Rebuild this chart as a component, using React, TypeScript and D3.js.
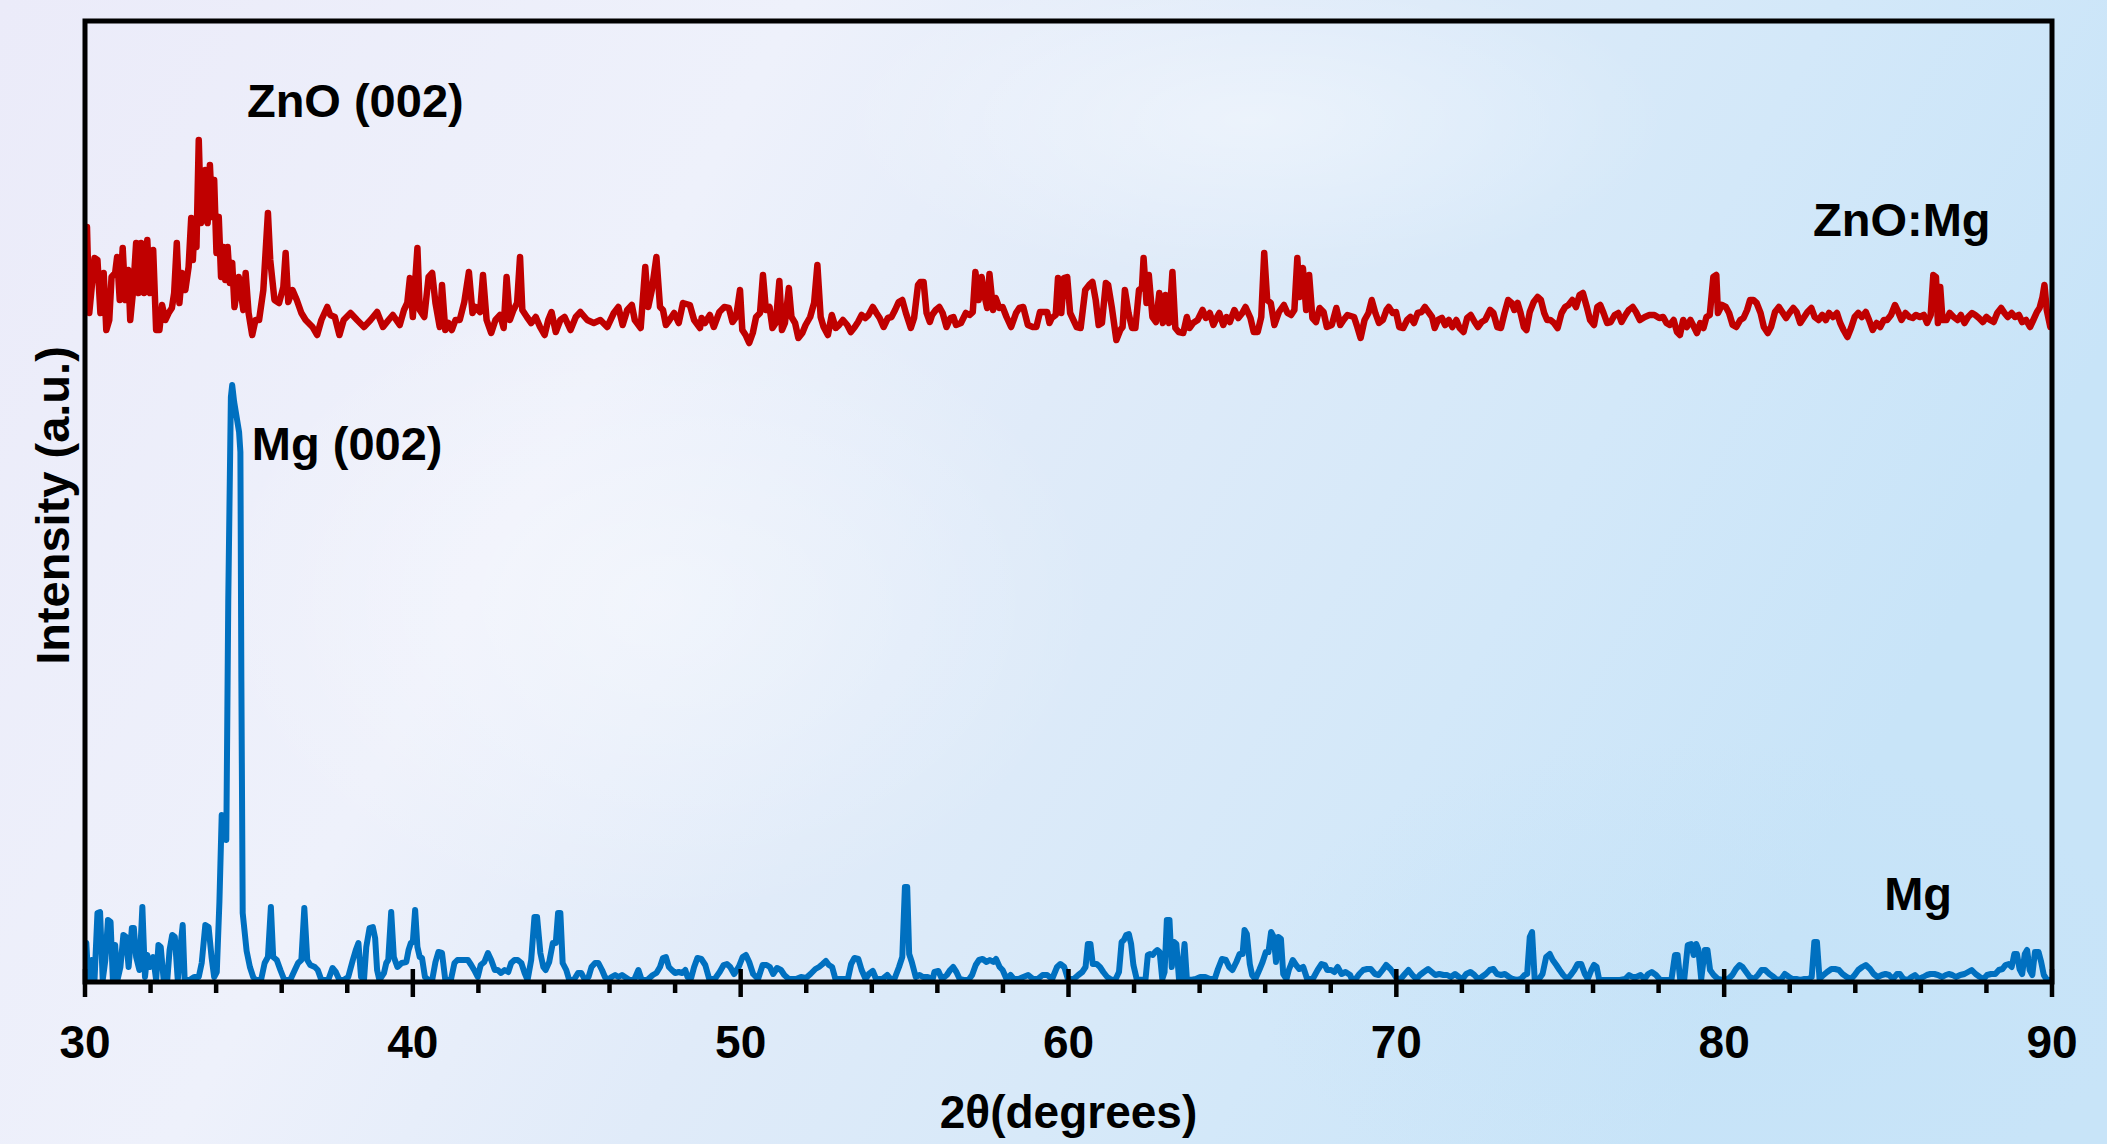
import React from "react";
import * as d3 from "d3";

// ---- data (2θ in degrees, intensity in arbitrary units, ZnO:Mg trace carries its stacking offset) ----
const xTicksMajor = [30, 40, 50, 60, 70, 80, 90];
const xTicksMinor = d3.range(32, 90, 2).filter((v) => v % 10 !== 0);

const znoMgPattern: [number, number][] = [
  [30.0, 690], [30.06, 755], [30.13, 669], [30.29, 724], [30.38, 722], [30.47, 669], [30.57, 709], [30.65, 652],
  [30.74, 662], [30.81, 705], [30.92, 709], [30.98, 725], [31.06, 682], [31.15, 734], [31.23, 682], [31.32, 712],
  [31.38, 662], [31.47, 692], [31.56, 739], [31.63, 689], [31.71, 739], [31.8, 689], [31.9, 742], [31.98, 689],
  [32.08, 732], [32.17, 652], [32.27, 652], [32.35, 677], [32.45, 662], [32.55, 669], [32.65, 674], [32.72, 689],
  [32.8, 739], [32.88, 679], [32.96, 709], [33.06, 692], [33.16, 715], [33.24, 764], [33.29, 722], [33.35, 762],
  [33.4, 735], [33.47, 842], [33.54, 759], [33.6, 769], [33.67, 812], [33.74, 759], [33.81, 817], [33.88, 765],
  [33.94, 802], [34.01, 729], [34.08, 765], [34.15, 705], [34.22, 735], [34.28, 702], [34.35, 735], [34.42, 699],
  [34.49, 719], [34.56, 675], [34.69, 705], [34.83, 672], [34.9, 709], [34.99, 669], [35.1, 647], [35.2, 662],
  [35.31, 662], [35.44, 692], [35.58, 769], [35.65, 722], [35.78, 682], [35.92, 679], [36.05, 695], [36.12, 729],
  [36.2, 680], [36.33, 692], [36.46, 682], [36.6, 669], [36.73, 662], [36.94, 655], [37.08, 647], [37.21, 662],
  [37.39, 675], [37.48, 667], [37.62, 665], [37.76, 647], [37.89, 662], [38.1, 669], [38.3, 662], [38.51, 655],
  [38.71, 662], [38.91, 670], [39.09, 655], [39.26, 662], [39.39, 667], [39.6, 657], [39.73, 672], [39.83, 679],
  [39.91, 704], [40.0, 665], [40.14, 734], [40.21, 672], [40.35, 665], [40.48, 705], [40.59, 709], [40.69, 679],
  [40.82, 655], [40.89, 697], [40.99, 652], [41.09, 659], [41.19, 652], [41.3, 662], [41.43, 662], [41.57, 680],
  [41.71, 710], [41.82, 669], [41.91, 675], [42.05, 670], [42.14, 707], [42.25, 662], [42.39, 649], [42.52, 662],
  [42.66, 667], [42.77, 654], [42.86, 705], [42.96, 662], [43.07, 672], [43.18, 679], [43.27, 725], [43.34, 672],
  [43.48, 665], [43.61, 659], [43.75, 665], [43.88, 655], [44.02, 647], [44.13, 662], [44.23, 670], [44.36, 650],
  [44.5, 662], [44.63, 665], [44.81, 652], [44.97, 665], [45.11, 670], [45.32, 662], [45.52, 659], [45.72, 662],
  [45.93, 655], [46.13, 669], [46.27, 675], [46.4, 657], [46.54, 672], [46.68, 677], [46.77, 662], [46.95, 654],
  [47.09, 715], [47.18, 675], [47.29, 692], [47.43, 725], [47.54, 675], [47.63, 672], [47.72, 657], [47.83, 662],
  [47.97, 669], [48.11, 659], [48.24, 679], [48.45, 677], [48.58, 662], [48.76, 654], [48.81, 664], [48.91, 659],
  [49.06, 667], [49.18, 655], [49.35, 670], [49.5, 675], [49.64, 674], [49.75, 660], [49.86, 665], [49.98, 692],
  [50.05, 652], [50.15, 647], [50.26, 639], [50.37, 649], [50.47, 665], [50.59, 669], [50.68, 707], [50.77, 672],
  [50.88, 675], [50.97, 654], [51.07, 659], [51.18, 701], [51.26, 652], [51.35, 659], [51.47, 694], [51.55, 665],
  [51.66, 659], [51.76, 644], [51.88, 649], [51.98, 657], [52.12, 665], [52.24, 679], [52.34, 717], [52.44, 665],
  [52.53, 655], [52.66, 647], [52.78, 667], [52.9, 654], [53.0, 657], [53.12, 662], [53.25, 657], [53.36, 650],
  [53.48, 655], [53.58, 660], [53.69, 667], [53.8, 664], [53.9, 667], [54.03, 675], [54.14, 669], [54.24, 664],
  [54.36, 655], [54.49, 664], [54.6, 665], [54.71, 672], [54.82, 680], [54.93, 682], [55.04, 669], [55.19, 654],
  [55.29, 664], [55.41, 697], [55.48, 700], [55.58, 700], [55.67, 669], [55.77, 660], [55.84, 667], [55.95, 672],
  [56.06, 675], [56.16, 669], [56.28, 655], [56.4, 664], [56.49, 665], [56.57, 657], [56.72, 659], [56.87, 669],
  [56.98, 667], [57.08, 670], [57.16, 710], [57.26, 682], [57.35, 705], [57.42, 689], [57.52, 674], [57.59, 708],
  [57.7, 672], [57.78, 684], [57.89, 674], [57.99, 675], [58.11, 665], [58.25, 655], [58.4, 669], [58.5, 674],
  [58.62, 675], [58.76, 657], [58.91, 655], [59.02, 655], [59.13, 670], [59.23, 670], [59.35, 670], [59.42, 659],
  [59.49, 664], [59.61, 667], [59.68, 704], [59.78, 669], [59.86, 704], [59.96, 705], [60.05, 669], [60.15, 662],
  [60.25, 655], [60.37, 654], [60.51, 692], [60.63, 697], [60.73, 700], [60.83, 682], [60.92, 657], [61.02, 659],
  [61.14, 699], [61.21, 697], [61.32, 675], [61.46, 642], [61.58, 652], [61.65, 655], [61.72, 692], [61.83, 669],
  [61.94, 654], [62.04, 654], [62.15, 692], [62.24, 694], [62.29, 724], [62.38, 679], [62.45, 707], [62.56, 665],
  [62.67, 660], [62.77, 689], [62.88, 659], [62.96, 687], [63.07, 659], [63.17, 710], [63.26, 654], [63.36, 650],
  [63.5, 649], [63.61, 665], [63.69, 654], [63.8, 659], [63.94, 662], [64.09, 672], [64.19, 664], [64.31, 669],
  [64.42, 657], [64.53, 665], [64.6, 669], [64.72, 657], [64.82, 665], [64.92, 660], [65.06, 672], [65.18, 664],
  [65.3, 669], [65.4, 675], [65.55, 664], [65.65, 650], [65.77, 650], [65.88, 665], [65.97, 729], [66.06, 682],
  [66.17, 679], [66.28, 657], [66.42, 670], [66.57, 677], [66.68, 669], [66.79, 667], [66.89, 672], [66.98, 724],
  [67.05, 685], [67.15, 714], [67.25, 672], [67.34, 707], [67.44, 664], [67.55, 660], [67.66, 674], [67.78, 670],
  [67.88, 655], [68.03, 657], [68.17, 674], [68.29, 657], [68.39, 662], [68.51, 667], [68.71, 665], [68.81, 655],
  [68.91, 644], [69.03, 662], [69.15, 669], [69.25, 682], [69.36, 669], [69.47, 659], [69.59, 662], [69.7, 672],
  [69.77, 675], [69.89, 669], [69.99, 670], [70.09, 655], [70.21, 654], [70.33, 662], [70.43, 665], [70.54, 659],
  [70.65, 669], [70.77, 670], [70.87, 675], [70.98, 670], [71.09, 665], [71.17, 654], [71.27, 662], [71.39, 664],
  [71.49, 657], [71.6, 662], [71.71, 655], [71.83, 662], [71.93, 654], [72.05, 650], [72.16, 664], [72.27, 667],
  [72.39, 660], [72.49, 655], [72.6, 660], [72.71, 662], [72.86, 672], [72.96, 669], [73.08, 655], [73.19, 654],
  [73.3, 669], [73.41, 682], [73.52, 679], [73.6, 672], [73.7, 679], [73.79, 669], [73.89, 655], [73.97, 652],
  [74.07, 670], [74.19, 680], [74.31, 685], [74.41, 682], [74.51, 669], [74.6, 662], [74.7, 662], [74.81, 659],
  [74.92, 654], [75.04, 669], [75.15, 675], [75.25, 677], [75.37, 682], [75.48, 675], [75.59, 687], [75.69, 689],
  [75.81, 675], [75.91, 662], [76.03, 657], [76.13, 675], [76.22, 677], [76.32, 669], [76.43, 659], [76.54, 660],
  [76.66, 667], [76.77, 669], [76.87, 660], [76.99, 667], [77.09, 672], [77.21, 675], [77.31, 670], [77.43, 662],
  [77.58, 665], [77.72, 667], [77.87, 667], [78.02, 664], [78.14, 665], [78.24, 659], [78.34, 657], [78.46, 662],
  [78.56, 650], [78.65, 647], [78.75, 662], [78.86, 655], [78.97, 662], [79.08, 655], [79.17, 649], [79.27, 659],
  [79.37, 654], [79.46, 665], [79.56, 667], [79.67, 705], [79.76, 707], [79.81, 669], [79.93, 677], [80.05, 675],
  [80.15, 669], [80.26, 657], [80.37, 655], [80.49, 662], [80.59, 664], [80.7, 672], [80.79, 682], [80.89, 682],
  [80.99, 679], [81.11, 669], [81.21, 655], [81.33, 649], [81.43, 655], [81.55, 670], [81.67, 675], [81.77, 670],
  [81.89, 664], [81.99, 669], [82.11, 674], [82.21, 670], [82.32, 659], [82.44, 665], [82.54, 670], [82.66, 674],
  [82.76, 665], [82.88, 662], [82.99, 667], [83.1, 662], [83.2, 669], [83.32, 665], [83.44, 669], [83.54, 659],
  [83.64, 652], [83.76, 645], [83.87, 654], [83.98, 665], [84.09, 669], [84.2, 665], [84.32, 670], [84.42, 662],
  [84.53, 652], [84.65, 659], [84.76, 655], [84.87, 662], [84.97, 662], [85.09, 667], [85.21, 677], [85.31, 670],
  [85.41, 662], [85.53, 669], [85.65, 665], [85.75, 664], [85.85, 667], [85.97, 665], [86.09, 667], [86.19, 659],
  [86.3, 667], [86.38, 707], [86.46, 705], [86.52, 659], [86.59, 695], [86.66, 662], [86.78, 662], [86.88, 669],
  [87.0, 665], [87.12, 662], [87.22, 667], [87.33, 659], [87.44, 665], [87.56, 669], [87.66, 667], [87.77, 664],
  [87.89, 660], [88.0, 665], [88.11, 662], [88.22, 660], [88.33, 669], [88.45, 674], [88.55, 669], [88.65, 665],
  [88.77, 669], [88.87, 665], [88.99, 667], [89.09, 660], [89.21, 662], [89.33, 655], [89.43, 662], [89.54, 670],
  [89.62, 674], [89.71, 685], [89.77, 697], [89.84, 672], [89.95, 655],
];

const mgPattern: [number, number][] = [
  [30.0, 2], [30.04, 39], [30.1, 2], [30.2, 22], [30.29, 2], [30.38, 69], [30.46, 70], [30.54, 2], [30.62, 22],
  [30.7, 62], [30.78, 60], [30.85, 2], [30.92, 37], [30.99, 2], [31.08, 15], [31.17, 47], [31.25, 45], [31.33, 15],
  [31.43, 54], [31.49, 54], [31.56, 25], [31.66, 12], [31.75, 75], [31.83, 5], [31.9, 27], [31.98, 15], [32.08, 25],
  [32.17, 2], [32.24, 37], [32.31, 35], [32.4, 2], [32.51, 2], [32.58, 32], [32.66, 47], [32.74, 45], [32.83, 2],
  [32.91, 35], [32.98, 57], [33.04, 2], [33.19, 2], [33.33, 5], [33.47, 5], [33.56, 19], [33.67, 57], [33.77, 55],
  [33.86, 25], [33.94, 5], [34.02, 10], [34.1, 80], [34.17, 167], [34.22, 160], [34.31, 142], [34.37, 382],
  [34.45, 585], [34.49, 597], [34.55, 580], [34.7, 550], [34.74, 530], [34.77, 300], [34.81, 69], [34.93, 31],
  [35.03, 15], [35.13, 5], [35.2, 2],
  [35.37, 2], [35.48, 19], [35.58, 25], [35.67, 75], [35.74, 25], [35.85, 22], [35.96, 12], [36.08, 2], [36.26, 2],
  [36.4, 12], [36.5, 19], [36.6, 22], [36.69, 74], [36.78, 22], [36.87, 17], [37.01, 15], [37.1, 12], [37.21, 2],
  [37.42, 2], [37.55, 14], [37.65, 10], [37.76, 2], [37.89, 2], [38.03, 5], [38.17, 22], [38.26, 32], [38.34, 39],
  [38.42, 5], [38.51, 2], [38.58, 35], [38.68, 54], [38.78, 55], [38.85, 44], [38.91, 12], [38.98, 2], [39.12, 9],
  [39.19, 19], [39.25, 22], [39.34, 70], [39.42, 25], [39.53, 15], [39.66, 19], [39.8, 20], [39.87, 32], [39.94, 39],
  [40.0, 40], [40.07, 72], [40.14, 35], [40.21, 25], [40.28, 24], [40.37, 5], [40.48, 2], [40.59, 2], [40.69, 20],
  [40.78, 30], [40.89, 29], [40.99, 2], [41.16, 2], [41.27, 19], [41.36, 22], [41.46, 22], [41.57, 22], [41.68, 22],
  [41.78, 17], [41.87, 12], [41.98, 5], [42.07, 17], [42.18, 20], [42.29, 29], [42.39, 22], [42.5, 12], [42.59, 12],
  [42.69, 9], [42.8, 12], [42.91, 10], [43.0, 19], [43.1, 22], [43.2, 22], [43.31, 19], [43.41, 9], [43.5, 2],
  [43.61, 22], [43.71, 65], [43.79, 65], [43.89, 29], [43.98, 15], [44.05, 12], [44.16, 20], [44.27, 39], [44.36, 39],
  [44.43, 69], [44.5, 69], [44.57, 19], [44.68, 12], [44.77, 2], [44.91, 2], [45.04, 9], [45.14, 9], [45.25, 2],
  [45.36, 5], [45.45, 15], [45.56, 19], [45.66, 19], [45.77, 12], [45.86, 5], [45.96, 2], [46.06, 5], [46.17, 7],
  [46.27, 5], [46.38, 7], [46.47, 5], [46.61, 2], [46.75, 2], [46.88, 12], [46.98, 2], [47.15, 2], [47.32, 7],
  [47.43, 9], [47.54, 15], [47.63, 24], [47.72, 25], [47.81, 15], [47.9, 12], [48.0, 9], [48.11, 10], [48.22, 9],
  [48.31, 12], [48.38, 5], [48.49, 4], [48.58, 15], [48.68, 24], [48.8, 23], [48.92, 17], [49.04, 3], [49.21, 3],
  [49.36, 10], [49.48, 17], [49.58, 18], [49.68, 15], [49.8, 8], [49.94, 15], [50.06, 25], [50.16, 27], [50.26, 20],
  [50.38, 8], [50.53, 3], [50.67, 17], [50.79, 17], [50.89, 15], [50.99, 8], [51.11, 14], [51.23, 12], [51.33, 7],
  [51.47, 3], [51.69, 3], [51.84, 5], [51.99, 4], [52.13, 8], [52.28, 13], [52.39, 15], [52.5, 18], [52.6, 21],
  [52.69, 17], [52.79, 15], [52.89, 3], [53.01, 3], [53.15, 3], [53.27, 3], [53.37, 18], [53.47, 24], [53.59, 23],
  [53.69, 12], [53.81, 3], [53.91, 8], [54.03, 11], [54.13, 3], [54.32, 3], [54.47, 7], [54.57, 3], [54.69, 3],
  [54.83, 15], [54.93, 25], [55.01, 95], [55.08, 95], [55.14, 28], [55.22, 20], [55.34, 5], [55.46, 7], [55.56, 5],
  [55.71, 5], [55.85, 2], [55.91, 10], [56.03, 11], [56.14, 3], [56.29, 7], [56.39, 12], [56.48, 15], [56.58, 10],
  [56.68, 3], [56.8, 2], [56.95, 2], [57.06, 7], [57.17, 17], [57.27, 22], [57.38, 23], [57.5, 20], [57.6, 22],
  [57.71, 20], [57.79, 23], [57.9, 15], [57.99, 12], [58.11, 3], [58.23, 7], [58.33, 3], [58.48, 3], [58.62, 5],
  [58.77, 7], [58.92, 3], [59.06, 3], [59.21, 7], [59.35, 7], [59.5, 3], [59.65, 15], [59.75, 18], [59.87, 15],
  [59.98, 3], [60.16, 3], [60.3, 7], [60.42, 10], [60.52, 15], [60.59, 38], [60.67, 38], [60.74, 18], [60.86, 18],
  [60.96, 15], [61.06, 10], [61.18, 5], [61.32, 2], [61.44, 3], [61.54, 10], [61.62, 40], [61.69, 42], [61.76, 47],
  [61.84, 48], [61.91, 38], [61.98, 17], [62.08, 3], [62.2, 2], [62.35, 3], [62.42, 27], [62.49, 28], [62.57, 27],
  [62.64, 30], [62.71, 32], [62.78, 30], [62.86, 3], [62.93, 10], [63.0, 62], [63.08, 62], [63.15, 15], [63.22, 40],
  [63.29, 38], [63.37, 3], [63.44, 3], [63.54, 38], [63.61, 3], [63.73, 2], [63.88, 3], [64.02, 5], [64.17, 5],
  [64.31, 3], [64.46, 3], [64.56, 13], [64.68, 23], [64.8, 22], [64.9, 15], [65.0, 12], [65.12, 20], [65.22, 28],
  [65.31, 28], [65.37, 52], [65.44, 48], [65.53, 18], [65.6, 7], [65.7, 3], [65.82, 12], [65.92, 20], [66.02, 30],
  [66.1, 30], [66.18, 50], [66.26, 45], [66.33, 20], [66.4, 45], [66.48, 43], [66.55, 8], [66.65, 3], [66.72, 12],
  [66.84, 22], [66.94, 17], [67.04, 13], [67.16, 15], [67.28, 3], [67.45, 3], [67.6, 12], [67.72, 18], [67.82, 17],
  [67.89, 12], [68.01, 12], [68.11, 10], [68.21, 15], [68.33, 8], [68.45, 10], [68.59, 7], [68.64, 3], [68.76, 3],
  [68.87, 8], [68.99, 12], [69.11, 13], [69.22, 13], [69.35, 8], [69.46, 7], [69.58, 12], [69.69, 17], [69.82, 13],
  [69.93, 8], [70.02, 3], [70.13, 3], [70.26, 8], [70.37, 12], [70.49, 7], [70.61, 3], [70.72, 7], [70.84, 10],
  [70.97, 13], [71.08, 10], [71.19, 7], [71.31, 8], [71.44, 7], [71.55, 7], [71.66, 5], [71.79, 8], [71.91, 5],
  [72.02, 3], [72.13, 8], [72.26, 10], [72.38, 7], [72.49, 3], [72.6, 5], [72.73, 8], [72.85, 12], [72.96, 13],
  [73.07, 8], [73.2, 7], [73.31, 8], [73.44, 5], [73.55, 3], [73.67, 2], [73.8, 3], [73.91, 7], [73.99, 8],
  [74.07, 45], [74.14, 50], [74.22, 3], [74.33, 2], [74.46, 8], [74.57, 25], [74.68, 28], [74.77, 22], [74.88, 17],
  [74.98, 12], [75.09, 7], [75.21, 3], [75.32, 7], [75.43, 12], [75.53, 18], [75.64, 18], [75.75, 8], [75.84, 3],
  [75.95, 12], [76.03, 17], [76.11, 15], [76.19, 2], [76.35, 2], [76.5, 2], [76.66, 2], [76.82, 2], [76.98, 3],
  [77.1, 7], [77.21, 5], [77.32, 5], [77.45, 7], [77.57, 3], [77.68, 8], [77.79, 10], [77.92, 7], [78.05, 2],
  [78.23, 2], [78.39, 2], [78.5, 27], [78.58, 27], [78.66, 2], [78.78, 2], [78.89, 37], [78.99, 38], [79.07, 27],
  [79.15, 38], [79.21, 33], [79.3, 3], [79.41, 32], [79.49, 32], [79.57, 12], [79.68, 7], [79.81, 3], [79.96, 2],
  [80.12, 3], [80.25, 7], [80.36, 13], [80.47, 17], [80.56, 15], [80.67, 10], [80.78, 5], [80.91, 3], [81.03, 7],
  [81.14, 12], [81.25, 12], [81.38, 8], [81.51, 5], [81.62, 2], [81.74, 3], [81.85, 8], [81.98, 5], [82.09, 3],
  [82.2, 3], [82.32, 2], [82.45, 3], [82.56, 3], [82.67, 5], [82.75, 40], [82.83, 40], [82.91, 3], [83.03, 7],
  [83.14, 10], [83.27, 13], [83.38, 13], [83.5, 12], [83.61, 8], [83.74, 5], [83.87, 3], [83.98, 7], [84.09, 12],
  [84.21, 15], [84.32, 17], [84.45, 13], [84.56, 8], [84.68, 5], [84.81, 7], [84.92, 8], [85.03, 7], [85.15, 3],
  [85.27, 8], [85.36, 8], [85.47, 3], [85.6, 2], [85.71, 5], [85.82, 7], [85.94, 3], [86.07, 5], [86.18, 7],
  [86.29, 8], [86.41, 8], [86.52, 7], [86.65, 5], [86.76, 7], [86.85, 8], [86.96, 7], [87.07, 5], [87.2, 7],
  [87.33, 8], [87.44, 10], [87.55, 12], [87.67, 8], [87.8, 5], [87.91, 3], [88.02, 7], [88.14, 8], [88.27, 8],
  [88.38, 12], [88.49, 13], [88.58, 17], [88.68, 18], [88.77, 15], [88.85, 28], [88.93, 28], [89.01, 13], [89.09, 8],
  [89.17, 28], [89.24, 32], [89.32, 12], [89.4, 7], [89.48, 30], [89.59, 30], [89.67, 20], [89.75, 7], [89.83, 3],
  [89.87, 2], [90.0, 2],
];

const peakLabels = [
  { text: "ZnO (002)", x: 34.94, y: 865 },
  { text: "Mg (002)", x: 35.09, y: 522 },
  { text: "ZnO:Mg", x: 82.71, y: 746 },
  { text: "Mg", x: 84.88, y: 72 },
];

const W = 2107;
const H = 1144;
const PL = 85, PR = 2052, PT = 21, PB = 982;
const FONT = "'Liberation Sans', Arial, Helvetica, sans-serif";

export default function App() {
  const x = d3.scaleLinear().domain([30, 90]).range([PL, PR]);
  const y = d3.scaleLinear().domain([0, 961]).range([PB, PT]);
  const line = d3
    .line<[number, number]>()
    .x((d) => x(d[0]))
    .y((d) => y(d[1]));

  return (
    <svg
      width={W}
      height={H}
      viewBox={`0 0 ${W} ${H}`}
      style={{ position: "absolute", left: 0, top: 0, display: "block" }}
    >
      <defs>
        <linearGradient id="bg" x1="0" y1="0" x2="1" y2="0.3">
          <stop offset="0%" stopColor="#ebebf9" />
          <stop offset="35%" stopColor="#eef1fb" />
          <stop offset="55%" stopColor="#e0ebf9" />
          <stop offset="80%" stopColor="#d3e8f9" />
          <stop offset="100%" stopColor="#c8e4f8" />
        </linearGradient>
        <radialGradient id="blob1" cx="0.5" cy="0.5" r="0.5">
          <stop offset="0%" stopColor="#ffffff" stopOpacity="0.4" />
          <stop offset="100%" stopColor="#ffffff" stopOpacity="0" />
        </radialGradient>
        <radialGradient id="blob2" cx="0.5" cy="0.5" r="0.5">
          <stop offset="0%" stopColor="#c2e1f7" stopOpacity="0.45" />
          <stop offset="100%" stopColor="#c2e1f7" stopOpacity="0" />
        </radialGradient>
        <clipPath id="plotClip">
          <rect x={PL} y={PT - 2} width={PR - PL} height={PB - PT + 4} />
        </clipPath>
      </defs>
      <rect x={0} y={0} width={W} height={H} fill="url(#bg)" />
      <ellipse cx={1250} cy={120} rx={420} ry={160} fill="url(#blob1)" />
      <ellipse cx={650} cy={600} rx={450} ry={320} fill="url(#blob1)" />
      <ellipse cx={1700} cy={980} rx={450} ry={240} fill="url(#blob2)" />

      <g clipPath="url(#plotClip)" fill="none" strokeLinejoin="round" strokeLinecap="round">
        <path d={line(znoMgPattern) || ""} stroke="#c00000" strokeWidth={6.5} />
        <path d={line(mgPattern) || ""} stroke="#0070c0" strokeWidth={6} />
      </g>

      {/* frame */}
      <rect x={PL} y={PT} width={PR - PL} height={PB - PT} fill="none" stroke="#000" strokeWidth={5} />

      {/* ticks */}
      {xTicksMinor.map((t) => (
        <line key={`m${t}`} x1={x(t)} x2={x(t)} y1={PB} y2={PB + 11} stroke="#000" strokeWidth={4.5} />
      ))}
      {xTicksMajor.map((t) => (
        <line key={`M${t}`} x1={x(t)} x2={x(t)} y1={PB - 13} y2={PB + 15} stroke="#000" strokeWidth={4.5} />
      ))}
      {xTicksMajor.map((t) => (
        <text
          key={`l${t}`}
          x={x(t)}
          y={1058}
          textAnchor="middle"
          fontFamily={FONT}
          fontWeight="bold"
          fontSize={46}
          fill="#000"
        >
          {t}
        </text>
      ))}

      <text
        x={(PL + PR) / 2}
        y={1128}
        textAnchor="middle"
        fontFamily={FONT}
        fontWeight="bold"
        fontSize={46}
        fill="#000"
      >
        2θ(degrees)
      </text>
      <text
        transform={`translate(69, ${(PT + PB) / 2 + 4}) rotate(-90)`}
        textAnchor="middle"
        fontFamily={FONT}
        fontWeight="bold"
        fontSize={47}
        fill="#000"
      >
        Intensity (a.u.)
      </text>

      {peakLabels.map((p) => (
        <text
          key={p.text}
          x={x(p.x)}
          y={y(p.y)}
          fontFamily={FONT}
          fontWeight="bold"
          fontSize={47}
          fill="#000"
        >
          {p.text}
        </text>
      ))}
    </svg>
  );
}
